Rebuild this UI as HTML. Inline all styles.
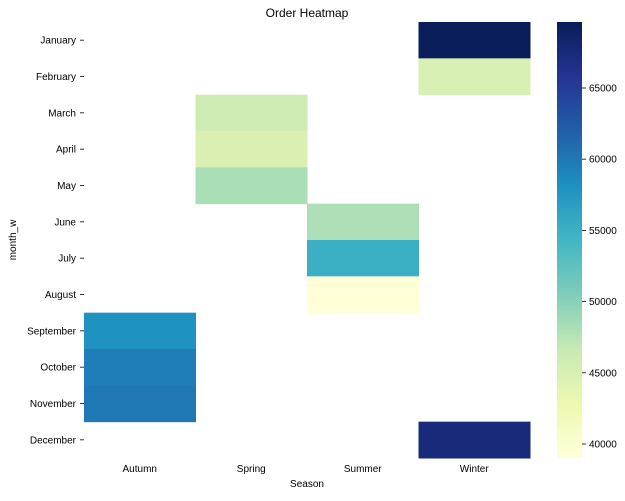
<!DOCTYPE html>
<html><head><meta charset="utf-8"><style>
body{margin:0;background:#fff;font-family:"Liberation Sans",sans-serif;}
svg text{font-family:"Liberation Sans",sans-serif;font-size:10px;fill:#000;}
</style></head><body>
<svg id="chart" width="625" height="496">
<text x="307" y="17" text-anchor="middle" style="font-size:12px">Order Heatmap</text>
<text x="307" y="487" text-anchor="middle">Season</text>
<text x="16" y="240" text-anchor="middle" transform="rotate(-90 16 240)">month_w</text>
<g id="cells"></g><g id="xt"></g><g id="yt"></g><g id="cb"></g>
</svg>
<script>
const seasons=["Autumn","Spring","Summer","Winter"];
const months=["January","February","March","April","May","June","July","August","September","October","November","December"];
const monthSeason=[3,3,1,1,1,2,2,2,0,0,0,3];
const values=[69600,45000,46000,44800,48200,48000,55000,39200,58000,59600,60000,67500];
const cbTicks=[40000,45000,50000,55000,60000,65000];
const vmin=39017,vmax=69635;
const stops=["#ffffd9","#edf8b1","#c7e9b4","#7fcdbb","#41b6c4","#1d91c0","#225ea8","#253494","#081d58"];
const NS="http://www.w3.org/2000/svg";
const X0=84,X1=530,Y0=22,Y1=458;
const cw=(X1-X0)/seasons.length,rh=(Y1-Y0)/months.length;
function hex(h){return [1,3,5].map(i=>parseInt(h.substr(i,2),16));}
function color(v){let t=(v-vmin)/(vmax-vmin);t=Math.max(0,Math.min(1,t))*(stops.length-1);
 const i=Math.min(Math.floor(t),stops.length-2),f=t-i,a=hex(stops[i]),b=hex(stops[i+1]);
 return "rgb("+a.map((c,k)=>Math.round(c+(b[k]-c)*f)).join(",")+")";}
function xs(i){return X0+i*cw;} function ys(i){return Y0+i*rh;}
function cbY(v){return Y1-(v-vmin)/(vmax-vmin)*(Y1-Y0);}
function mk(tag,at,parent){const e=document.createElementNS(NS,tag);for(const k in at)e.setAttribute(k,at[k]);document.getElementById(parent).appendChild(e);return e;}
values.forEach((v,i)=>{
 const r=mk("rect",{x:xs(monthSeason[i]),y:ys(i),width:cw+0.5,height:rh+0.5,fill:color(v)},"cells");
 
 
});
seasons.forEach((s,i)=>{
 const t=mk("text",{x:xs(i)+cw/2,y:472,"text-anchor":"middle"},"xt");t.textContent=s;
 
 
});
months.forEach((m,i)=>{
 const t=mk("text",{x:76,y:ys(i)+rh/2+3.5,"text-anchor":"end"},"yt");t.textContent=m;
 
 
 mk("line",{x1:80,x2:84,y1:ys(i)+rh/2,y2:ys(i)+rh/2,stroke:"#000","stroke-width":0.8},"yt");
});
const g=mk("linearGradient",{id:"grad",x1:0,y1:1,x2:0,y2:0},"cb");
stops.forEach((c,i)=>mk("stop",{offset:i/(stops.length-1),"stop-color":c},"grad"));
const bar=mk("rect",{x:557,y:Y0,width:25,height:Y1-Y0,fill:"url(#grad)"},"cb");


cbTicks.forEach(v=>{
 const y=cbY(v);
 mk("line",{x1:582,x2:586,y1:y,y2:y,stroke:"#000","stroke-width":0.8},"cb");
 const t=mk("text",{x:589,y:y+3.5},"cb");t.textContent=v;
 
 
});
</script>
</body></html>
